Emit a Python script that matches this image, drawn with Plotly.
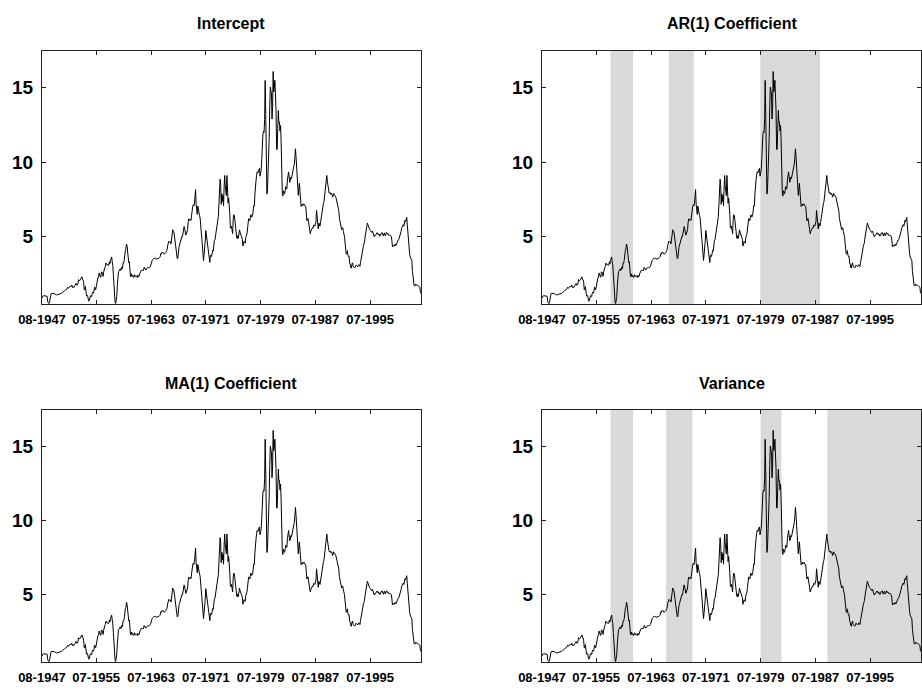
import pandas as pd
import plotly.graph_objects as go

# Monthly short-term interest rate (percent), starting August 1947
first_month = "1947-08-01"
rate = [
    0.85, 0.97, 1.00, 1.01, 1.00,                                        # 1947 (Aug-Dec)
    1.00, 1.00, 0.99, 0.98, 0.97, 0.60, 0.47, 0.48, 0.55, 0.90, 1.12, 1.16,  # 1948
    1.16, 1.17, 1.17, 1.17, 1.16, 1.14, 1.10, 1.08, 1.07, 1.06, 1.08, 1.10,  # 1949
    1.10, 1.12, 1.13, 1.15, 1.16, 1.17, 1.17, 1.21, 1.32, 1.33, 1.36, 1.37,  # 1950
    1.39, 1.39, 1.42, 1.52, 1.58, 1.50, 1.59, 1.64, 1.65, 1.61, 1.61, 1.73,  # 1951
    1.57, 1.54, 1.59, 1.57, 1.67, 1.70, 1.81, 1.83, 1.71, 1.74, 1.85, 2.09,  # 1952
    2.04, 2.02, 2.08, 2.18, 2.22, 2.28, 2.10, 2.09, 1.88, 1.40, 1.43, 1.63,  # 1953
    1.21, 0.98, 1.05, 1.01, 0.78, 0.64, 0.71, 0.89, 1.01, 0.99, 0.95, 1.17,  # 1954
    1.26, 1.18, 1.28, 1.59, 1.45, 1.41, 1.60, 1.90, 2.07, 2.23, 2.24, 2.54,  # 1955
    2.41, 2.32, 2.25, 2.60, 2.61, 2.49, 2.31, 2.60, 2.84, 2.90, 2.99, 3.21,  # 1956
    3.11, 3.10, 3.08, 3.06, 3.06, 3.29, 3.16, 3.37, 3.53, 3.62, 3.29, 3.04,  # 1957
    2.44, 1.53, 1.30, 0.60, 0.48, 0.70, 0.95, 1.69, 2.44, 2.63, 2.67, 2.77,  # 1958
    2.82, 2.70, 2.80, 2.95, 2.84, 3.21, 3.20, 3.38, 4.04, 4.05, 4.15, 4.49,  # 1959
    4.35, 3.96, 3.31, 3.23, 3.29, 2.46, 2.30, 2.30, 2.48, 2.30, 2.37, 2.25,  # 1960
    2.24, 2.42, 2.39, 2.29, 2.29, 2.33, 2.24, 2.39, 2.28, 2.30, 2.48, 2.60,  # 1961
    2.72, 2.73, 2.72, 2.73, 2.68, 2.73, 2.92, 2.82, 2.78, 2.74, 2.83, 2.87,  # 1962
    2.91, 2.92, 2.89, 2.90, 2.92, 2.99, 3.18, 3.32, 3.38, 3.45, 3.52, 3.52,  # 1963
    3.52, 3.53, 3.54, 3.47, 3.48, 3.48, 3.46, 3.50, 3.53, 3.57, 3.64, 3.84,  # 1964
    3.81, 3.93, 3.93, 3.93, 3.89, 3.80, 3.84, 3.84, 3.92, 4.03, 4.08, 4.36,  # 1965
    4.60, 4.67, 4.63, 4.61, 4.64, 4.50, 4.80, 4.96, 5.45, 5.35, 5.32, 4.96,  # 1966
    4.72, 4.56, 4.26, 3.84, 3.50, 3.54, 4.21, 4.27, 4.42, 4.56, 4.73, 4.97,  # 1967
    5.00, 4.98, 5.17, 5.38, 5.66, 5.52, 5.31, 5.09, 5.19, 5.35, 5.45, 5.94,  # 1968
    6.18, 6.16, 6.08, 6.15, 6.08, 6.49, 7.00, 7.01, 7.13, 7.04, 7.19, 7.72,  # 1969
    8.15, 7.16, 6.71, 6.48, 7.04, 6.74, 6.50, 6.41, 6.24, 5.93, 5.29, 4.86,  # 1970
    4.49, 3.77, 3.38, 3.78, 4.14, 4.70, 5.40, 5.08, 4.67, 4.49, 4.19, 4.02,  # 1971
    3.40, 3.25, 3.72, 3.72, 3.65, 3.87, 4.06, 4.01, 4.65, 4.72, 4.77, 5.06,  # 1972
    5.31, 5.56, 6.05, 6.29, 6.35, 7.19, 8.02, 8.85, 8.48, 7.16, 7.87, 7.36,  # 1973
    7.76, 7.06, 8.20, 9.10, 8.43, 8.14, 7.75, 9.10, 8.36, 7.24, 7.58, 7.18,  # 1974
    6.49, 5.58, 5.54, 5.69, 5.32, 5.19, 6.16, 6.46, 6.38, 6.08, 5.47, 5.50,  # 1975
    4.96, 4.85, 5.05, 4.88, 5.18, 5.44, 5.28, 5.15, 5.08, 4.93, 4.81, 4.35,  # 1976
    4.60, 4.66, 4.61, 4.54, 4.94, 5.00, 5.15, 5.50, 5.77, 6.19, 6.16, 6.06,  # 1977
    6.45, 6.46, 6.32, 6.31, 6.43, 6.71, 7.07, 7.04, 7.84, 8.13, 8.79, 9.12,  # 1978
    9.35, 9.27, 9.46, 9.49, 9.58, 9.05, 9.26, 9.45, 10.18, 11.47, 11.87, 12.07,  # 1979
    12.00, 12.86, 15.50, 13.20, 8.90, 7.85, 8.06, 9.13, 10.27, 11.62, 13.73, 15.05,  # 1980
    14.80, 14.60, 12.90, 13.69, 16.10, 14.73, 14.95, 15.51, 14.70, 13.54, 10.86, 10.85,  # 1981
    12.28, 13.48, 12.68, 12.70, 12.09, 12.47, 11.35, 8.68, 7.92, 7.71, 8.07, 7.94,  # 1982
    7.86, 8.11, 8.35, 8.21, 8.19, 8.79, 9.08, 9.34, 9.00, 8.64, 8.76, 9.00,  # 1983
    8.90, 9.09, 9.52, 9.69, 9.83, 9.87, 10.30, 10.90, 10.37, 9.74, 8.61, 8.06,  # 1984
    7.76, 8.22, 8.57, 8.00, 7.56, 7.01, 7.05, 7.18, 7.08, 7.17, 7.20, 7.07,  # 1985
    7.04, 7.03, 6.59, 6.06, 6.12, 6.21, 5.84, 5.57, 5.19, 5.18, 5.35, 5.49,  # 1986
    5.45, 5.59, 5.56, 5.76, 5.75, 5.69, 5.78, 6.00, 6.75, 6.40, 5.81, 5.50,  # 1987
    5.90, 5.69, 5.69, 5.92, 6.27, 6.50, 6.73, 7.02, 7.23, 7.34, 7.68, 8.09,  # 1988
    8.29, 8.60, 9.10, 8.70, 8.40, 8.22, 7.92, 7.91, 7.95, 7.83, 7.90, 7.85,  # 1989
    7.64, 7.74, 7.90, 7.77, 7.74, 7.73, 7.62, 7.45, 7.36, 7.17, 7.06, 6.74,  # 1990
    6.22, 5.94, 5.91, 5.65, 5.46, 5.57, 5.58, 5.33, 5.22, 4.99, 4.56, 4.07,  # 1991
    3.80, 3.84, 4.04, 3.75, 3.63, 3.66, 3.21, 3.13, 2.91, 2.86, 3.13, 3.22,  # 1992
    3.00, 2.93, 2.95, 2.87, 2.96, 3.07, 3.04, 3.02, 2.95, 3.02, 3.10, 3.06,  # 1993
    2.98, 3.25, 3.50, 3.68, 4.14, 4.14, 4.33, 4.48, 4.62, 4.95, 5.29, 5.60,  # 1994
    5.71, 5.90, 5.80, 5.65, 5.67, 5.47, 5.42, 5.40, 5.28, 5.28, 5.36, 5.14,  # 1995
    5.00, 4.98, 5.06, 5.05, 5.12, 5.19, 5.25, 5.15, 5.19, 5.09, 5.13, 5.01,  # 1996
    5.13, 5.11, 5.24, 5.26, 5.15, 5.03, 5.15, 5.24, 5.05, 5.07, 5.24, 5.26,  # 1997
    5.14, 5.19, 5.13, 5.05, 5.10, 5.08, 5.06, 5.00, 4.71, 4.30, 4.41, 4.39,  # 1998
    4.34, 4.45, 4.48, 4.38, 4.51, 4.59, 4.65, 4.76, 4.78, 4.88, 5.07, 5.20,  # 1999
    5.32, 5.55, 5.69, 5.66, 5.79, 5.69, 5.96, 6.09, 6.00, 6.11, 6.28, 5.77,  # 2000
    5.15, 4.88, 4.42, 3.87, 3.62, 3.49, 3.51, 3.36, 2.64, 2.16, 1.87, 1.69,  # 2001
    1.65, 1.73, 1.79, 1.72, 1.73, 1.70, 1.68, 1.62, 1.63, 1.58, 1.23, 1.15,  # 2002
]

tick_dates = ["1947-08-01", "1955-07-01", "1963-07-01", "1971-07-01",
              "1979-07-01", "1987-07-01", "1995-07-01"]
tick_labels = ["08-1947", "07-1955", "07-1963", "07-1971",
               "07-1979", "07-1987", "07-1995"]
y_ticks = [5, 10, 15]

panel_titles = ["Intercept", "AR(1) Coefficient", "MA(1) Coefficient", "Variance"]

# Periods flagged as a separate regime for each parameter (start, end)
intercept_regimes = []
ar_regimes = [("1957-08-01", "1960-11-20"),
              ("1966-02-01", "1969-10-01"),
              ("1979-06-15", "1988-03-01")]
ma_regimes = []
variance_regimes = [("1957-08-01", "1960-11-20"),
                    ("1965-09-15", "1969-07-15"),
                    ("1979-07-01", "1982-07-15"),
                    ("1989-04-01", "2002-12-01")]
panel_regimes = [intercept_regimes, ar_regimes, ma_regimes, variance_regimes]

dates = pd.date_range(first_month, periods=len(rate), freq="MS")

W, H = 922, 691
FONT = "Liberation Sans, Arial, sans-serif"

# plot-area boxes in pixels: (left, right, top, bottom)
boxes = [(42, 421, 51, 304), (542, 921, 51, 304),
         (42, 421, 410, 662), (542, 921, 410, 662)]

fig = go.Figure()
layout = dict(
    width=W, height=H,
    margin=dict(l=0, r=0, t=0, b=0, autoexpand=False),
    paper_bgcolor="white", plot_bgcolor="white",
    showlegend=False,
    shapes=[], annotations=[],
)

for i, (left, right, top, bottom) in enumerate(boxes):
    n = "" if i == 0 else str(i + 1)
    fig.add_trace(go.Scatter(
        x=dates, y=rate, mode="lines",
        line=dict(color="black", width=1),
        xaxis="x" + n, yaxis="y" + n, hoverinfo="skip",
    ))
    common = dict(showline=True, linecolor="#222222", linewidth=1,
                  mirror="ticks", ticks="inside", ticklen=4,
                  tickcolor="#222222", tickwidth=1,
                  showgrid=False, zeroline=False, automargin=False)
    layout["xaxis" + n] = dict(
        common, domain=[left / W, right / W],
        anchor="y" + n, type="date",
        range=[dates[0], dates[-1]],
        tickmode="array", tickvals=tick_dates, ticktext=tick_labels,
        tickangle=0,
        tickfont=dict(family=FONT, size=13, color="black", weight="bold"),
        ticklabelstandoff=3,
    )
    layout["yaxis" + n] = dict(
        common, domain=[1 - bottom / H, 1 - top / H],
        anchor="x" + n,
        range=[0.45, 17.48],
        tickmode="array", tickvals=y_ticks,
        tickfont=dict(family=FONT, size=19, color="black", weight="bold"),
        ticklabelstandoff=4,
    )
    for start, end in panel_regimes[i]:
        layout["shapes"].append(dict(
            type="rect", xref="x" + n, yref="y" + n + " domain",
            x0=start, x1=end, y0=0, y1=1,
            fillcolor="#d9d9d9", line=dict(width=0), layer="below",
        ))
    layout["annotations"].append(dict(
        text=panel_titles[i], xref="paper", yref="paper",
        x=(left + right) / 2 / W, y=1 - (top - 27) / H,
        xanchor="center", yanchor="middle", showarrow=False,
        font=dict(family=FONT, size=16, color="black", weight="bold"),
    ))

fig.update_layout(**layout)
fig.write_html("out.html")
